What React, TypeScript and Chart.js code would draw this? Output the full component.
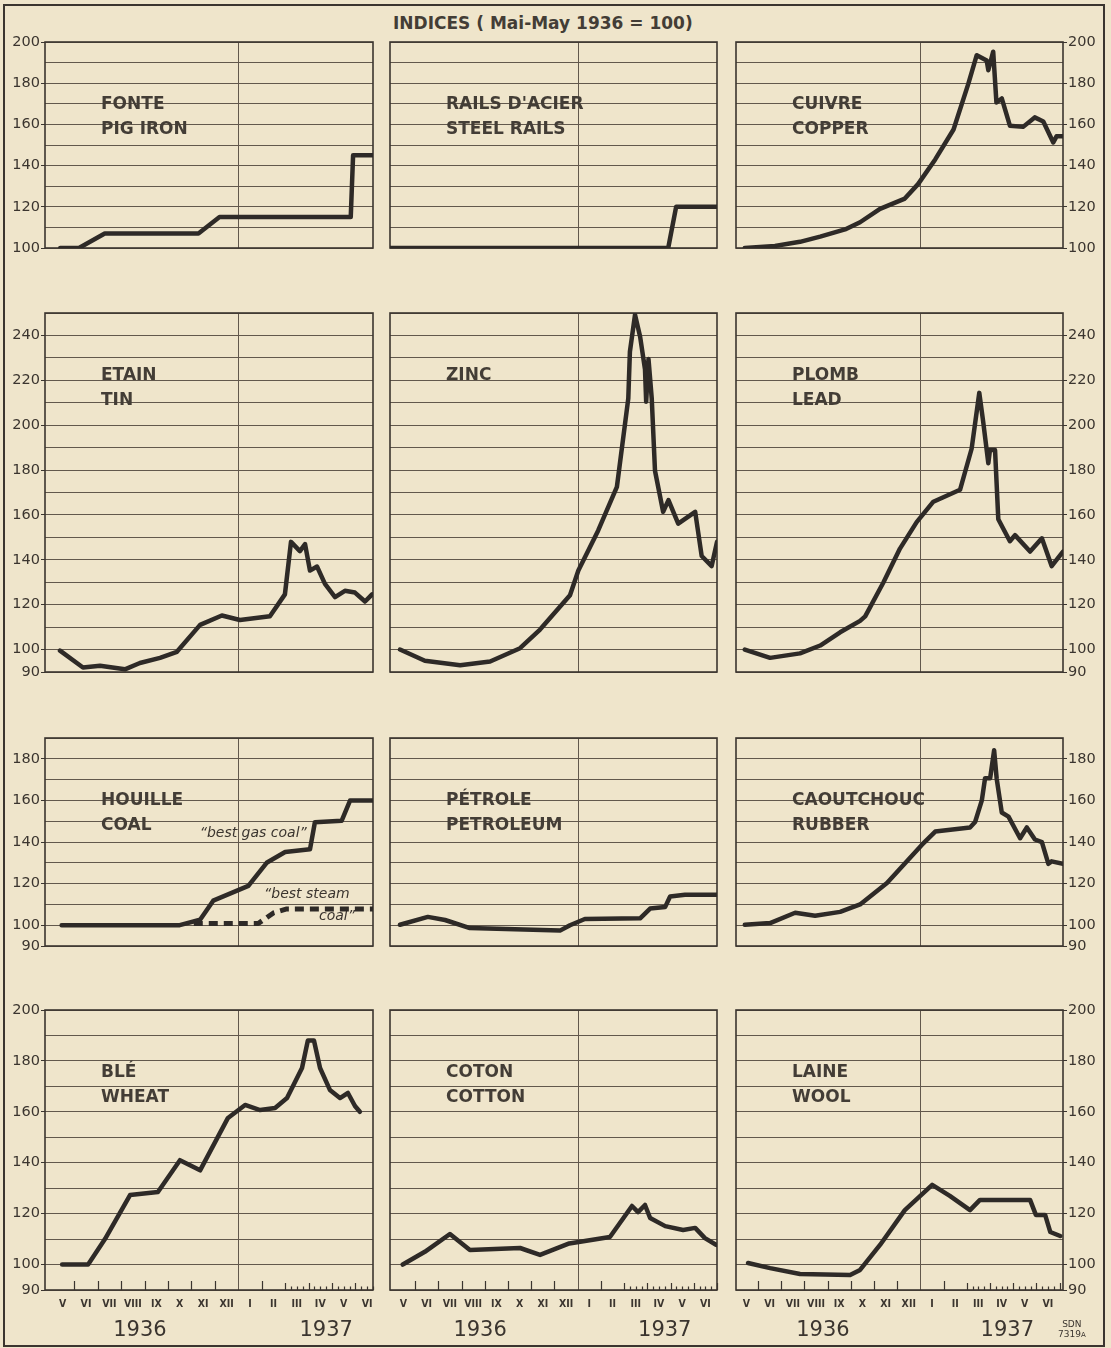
import React, { useEffect, useRef } from 'react';
import { Chart, registerables } from 'chart.js';

Chart.register(...registerables);

const BG = '#efe5cb';
const INK = '#3b352f';
const LABEL_INK = '#433d36';
const GRID = '#62584c';
const LINE = '#2e2a27';

// Month labels (May 1936 .. June 1937); x values are in months from 1 May 1936
const monthLabels = ['V', 'VI', 'VII', 'VIII', 'IX', 'X', 'XI', 'XII', 'I', 'II', 'III', 'IV', 'V', 'VI'];
const yearLabels = ['1936', '1937'];
const yearCenters = [3.8, 11.75];
const monthTicks = [1, 2, 3, 4, 5, 6, 7, 9];
const weeklyTicks = [10, 10.25, 10.5, 10.75, 11, 11.25, 11.5, 11.75, 12, 12.25, 12.5, 12.75, 13, 13.25, 13.5, 13.75, 14];
const yearDivider = 8;

// y ranges per row
const rowRanges = [[100, 200], [90, 250], [90, 190], [90, 200]];

// ---- data: [month, index] ----
const pigIron = [[0.4, 100], [1.2, 100], [2.3, 107], [6.3, 107], [7.2, 115], [12.8, 115], [12.9, 145], [13.75, 145]];
const steelRails = [[-0.08, 100], [11.9, 100], [12.24, 120], [14.0, 120]];
const copper = [[0.43, 100], [1.73, 101], [2.81, 103], [3.68, 105.5], [4.75, 109], [5.4, 112.5], [6.26, 119], [7.33, 124], [7.9, 131], [8.64, 143], [9.43, 157.5], [10.07, 179.8], [10.43, 193.6], [10.86, 191], [10.93, 186.3], [11.14, 195.3], [11.28, 170.6], [11.51, 172.6], [11.86, 159.4], [12.43, 158.8], [12.93, 163.4], [13.3, 161.4], [13.73, 151.2], [13.87, 154.2], [14.15, 154.2]];
const tin = [[0.39, 99.5], [1.37, 92], [2.1, 92.8], [3.16, 91.2], [3.8, 94], [4.66, 96.3], [5.38, 99], [6.37, 111], [7.3, 115.2], [8.07, 113.2], [9.35, 114.8], [9.99, 124.6], [10.25, 148], [10.63, 143.9], [10.85, 147], [11.06, 135.2], [11.36, 137], [11.7, 129.3], [12.13, 123.4], [12.55, 126.2], [12.98, 125.4], [13.41, 121.4], [13.71, 124.6]];
const zinc = [[0.35, 100], [1.42, 95], [2.94, 93], [4.23, 94.7], [5.52, 100.6], [6.38, 108.9], [7.67, 124.2], [8.03, 135.2], [8.88, 153], [9.69, 172.5], [10.18, 211.9], [10.25, 232.8], [10.47, 249.2], [10.69, 239.4], [10.9, 224.9], [10.95, 210.5], [11.05, 229.5], [11.19, 211.9], [11.33, 179.7], [11.68, 161.4], [11.91, 166.6], [12.33, 156.1], [13.06, 161.4], [13.34, 141.7], [13.77, 137.2], [14.0, 148]];
const lead = [[0.43, 100], [1.52, 96.3], [2.81, 98.3], [3.68, 101.8], [4.54, 107.7], [5.4, 112.8], [5.62, 114.8], [6.41, 130], [7.12, 145], [7.84, 156.8], [8.56, 165.9], [9.71, 171.2], [10.21, 189.5], [10.54, 214.4], [10.71, 201.4], [10.93, 183], [11.0, 188.9], [11.22, 188.9], [11.36, 158.1], [11.86, 148.3], [12.08, 151], [12.73, 143.7], [13.24, 149.6], [13.66, 137.2], [14.15, 143.7]];
const gasCoal = [[0.46, 100], [5.5, 100], [6.37, 102.6], [6.93, 111.8], [8.43, 118.9], [9.21, 130], [10.0, 135.2], [11.06, 136.5], [11.27, 149.5], [12.41, 150.2], [12.77, 159.9], [13.75, 160]];
const steamCoal = [[6.1, 100.8], [8.85, 100.8], [9.5, 105.9], [10.07, 107.8], [13.75, 107.8]];
const petroleum = [[0.35, 100.2], [1.55, 104], [2.29, 102.5], [3.36, 98.6], [7.24, 97.4], [7.67, 100], [8.31, 103], [10.69, 103.3], [11.12, 108], [11.77, 108.8], [11.98, 113.8], [12.62, 114.6], [14.0, 114.6]];
const rubber = [[0.43, 100.2], [1.52, 101], [2.6, 106], [3.46, 104.5], [4.54, 106.4], [5.4, 110], [6.56, 120.3], [8.06, 138.6], [8.64, 145], [10.14, 147], [10.36, 149.6], [10.65, 160], [10.79, 170.7], [11.01, 170.7], [11.18, 184.1], [11.29, 170.5], [11.51, 154.2], [11.8, 152.2], [12.3, 141.8], [12.59, 147], [12.94, 141.2], [13.24, 139.9], [13.52, 129.5], [13.66, 130.7], [14.15, 129.5]];
const wheat = [[0.48, 100], [1.59, 100], [2.31, 110], [3.38, 127.3], [4.57, 128.5], [5.51, 141], [6.37, 137], [7.56, 157.6], [8.29, 162.7], [8.93, 160.7], [9.57, 161.5], [10.08, 165.4], [10.72, 177.2], [10.97, 188], [11.23, 188], [11.49, 177.2], [11.91, 168.6], [12.34, 165.4], [12.68, 167.4], [12.98, 162.3], [13.19, 160]];
const cotton = [[0.47, 100], [1.42, 105], [2.5, 112], [3.36, 105.7], [5.52, 106.5], [6.38, 103.8], [7.64, 108.3], [9.39, 110.8], [10.34, 123], [10.6, 120.6], [10.9, 123.4], [11.12, 118.3], [11.77, 115.1], [12.54, 113.6], [13.06, 114.4], [13.48, 110.4], [13.96, 107.7]];
const wool = [[0.57, 100.6], [1.52, 98.6], [2.81, 96.3], [4.97, 95.9], [5.4, 97.9], [6.26, 107.7], [7.33, 121.4], [8.51, 131.3], [9.27, 127], [10.14, 121.4], [10.57, 125.4], [12.73, 125.4], [12.98, 119.5], [13.38, 119.5], [13.6, 112.8], [14.03, 111.2]];

type Series = { data: number[][]; dashed?: boolean };
type Note = { text: string; x: number; y: number; align: CanvasTextAlign };
type Panel = { row: number; col: number; fr: string; en: string; series: Series[]; notes?: Note[] };

const panels: Panel[] = [
  { row: 0, col: 0, fr: 'FONTE', en: 'PIG IRON', series: [{ data: pigIron }] },
  { row: 0, col: 1, fr: "RAILS D'ACIER", en: 'STEEL RAILS', series: [{ data: steelRails }] },
  { row: 0, col: 2, fr: 'CUIVRE', en: 'COPPER', series: [{ data: copper }] },
  { row: 1, col: 0, fr: 'ETAIN', en: 'TIN', series: [{ data: tin }] },
  { row: 1, col: 1, fr: 'ZINC', en: '', series: [{ data: zinc }] },
  { row: 1, col: 2, fr: 'PLOMB', en: 'LEAD', series: [{ data: lead }] },
  {
    row: 2, col: 0, fr: 'HOUILLE', en: 'COAL',
    series: [{ data: gasCoal }, { data: steamCoal, dashed: true }],
    notes: [
      { text: '\u201Cbest gas coal\u201D', x: 6.35, y: 144.3, align: 'left' },
      { text: '\u201Cbest steam', x: 9.1, y: 115, align: 'left' },
      { text: 'coal\u201D', x: 12.98, y: 104.3, align: 'right' },
    ],
  },
  { row: 2, col: 1, fr: 'PÉTROLE', en: 'PETROLEUM', series: [{ data: petroleum }] },
  { row: 2, col: 2, fr: 'CAOUTCHOUC', en: 'RUBBER', series: [{ data: rubber }] },
  { row: 3, col: 0, fr: 'BLÉ', en: 'WHEAT', series: [{ data: wheat }] },
  { row: 3, col: 1, fr: 'COTON', en: 'COTTON', series: [{ data: cotton }] },
  { row: 3, col: 2, fr: 'LAINE', en: 'WOOL', series: [{ data: wool }] },
];

// layout (pixels)
const rowTop = [42, 313, 738, 1010];
const rowHeight = [254, 407, 256, 280];
const colLeft = [45, 390, 736];
const colWidth = [328, 327, 327];
const colXRange = [[-0.25, 13.75], [-0.08, 14.0], [0.05, 14.15]];

const isLabeled = (v: number) => v % 20 === 0 || v === 90;

function PanelChart({ panel }: { panel: Panel }) {
  const ref = useRef<HTMLCanvasElement>(null);
  const { row, col } = panel;
  const padL = col === 0 ? 45 : 10;
  const padR = col === 2 ? 45 : 10;
  const padT = 10;
  const padB = row === 3 ? 60 : 10;
  const w = padL + colWidth[col] + padR;
  const h = padT + rowHeight[row] + padB;
  const left = colLeft[col] - padL;
  const top = rowTop[row] - padT;

  useEffect(() => {
    const canvas = ref.current;
    if (!canvas) return;
    const deco = {
      id: 'deco' + row + col,
      beforeDatasetsDraw(chart: any) {
        const c = chart.ctx;
        const ca = chart.chartArea;
        const xs = chart.scales.x;
        const ys = chart.scales.y;
        c.save();
        // divider Jan 1937
        const dx = Math.round(xs.getPixelForValue(yearDivider)) + 0.5;
        c.strokeStyle = GRID;
        c.lineWidth = 1;
        c.beginPath();
        c.moveTo(dx, ca.top);
        c.lineTo(dx, ca.bottom);
        c.stroke();
        // frame
        c.strokeStyle = INK;
        c.lineWidth = 1.6;
        c.strokeRect(ca.left, ca.top, ca.right - ca.left, ca.bottom - ca.top);
        if (row === 3) {
          c.lineWidth = 1.2;
          c.strokeStyle = INK;
          c.beginPath();
          monthTicks.forEach((m) => {
            const px = Math.round(xs.getPixelForValue(m)) + 0.5;
            c.moveTo(px, ca.bottom);
            c.lineTo(px, ca.bottom - 9);
          });
          weeklyTicks.forEach((m) => {
            if (m > xs.max) return;
            const px = Math.round(xs.getPixelForValue(m)) + 0.5;
            const len = Number.isInteger(m) ? 7 : 3.5;
            c.moveTo(px, ca.bottom);
            c.lineTo(px, ca.bottom - len);
          });
          c.stroke();
          c.fillStyle = INK;
          c.font = '21px "DejaVu Sans"';
          c.textAlign = 'center';
          c.textBaseline = 'middle';
          yearLabels.forEach((t, i) => {
            c.fillText(t, xs.getPixelForValue(yearCenters[i]), ca.bottom + 41);
          });
        }
        // panel labels
        c.fillStyle = LABEL_INK;
        c.font = 'bold 17px "DejaVu Sans"';
        c.textAlign = 'left';
        c.textBaseline = 'middle';
        c.fillText(panel.fr, ca.left + 56, ca.top + 63);
        if (panel.en) c.fillText(panel.en, ca.left + 56, ca.top + 88);
        if (panel.notes) {
          c.font = 'italic 14px "DejaVu Sans"';
          c.fillStyle = INK;
          panel.notes.forEach((n) => {
            c.textAlign = n.align;
            c.fillText(n.text, xs.getPixelForValue(n.x), ys.getPixelForValue(n.y));
          });
        }
        c.restore();
      },
    };

    const chart = new Chart(canvas, {
      type: 'line',
      data: {
        datasets: panel.series.map((s) => ({
          data: s.data.map(([x, y]) => ({ x, y })),
          borderColor: LINE,
          borderWidth: s.dashed ? 5 : 4.5,
          borderDash: s.dashed ? [9, 6] : [],
          borderJoinStyle: 'round',
          borderCapStyle: s.dashed ? 'butt' : 'round',
          pointRadius: 0,
          tension: 0,
          fill: false,
        })),
      },
      options: {
        animation: false,
        responsive: false,
        devicePixelRatio: 1,
        events: [],
        layout: {
          padding: {
            left: col === 0 ? 5 : 10,
            right: col === 2 ? 5 : 10,
            top: padT,
            bottom: row === 3 ? 12 : padB,
          },
        },
        plugins: { legend: { display: false }, tooltip: { enabled: false } },
        scales: {
          x: {
            type: 'linear',
            min: colXRange[col][0],
            max: colXRange[col][1],
            display: row === 3,
            afterBuildTicks: (s: any) => {
              s.ticks = monthLabels.map((_, i) => ({ value: i + 0.5 }));
            },
            afterFit: (s: any) => {
              s.height = 48;
            },
            ticks: {
              autoSkip: false,
              maxRotation: 0,
              padding: 8,
              color: INK,
              font: { family: '"Liberation Sans Narrow", "DejaVu Sans Condensed", sans-serif', size: 10.5, weight: 'bold' },
              callback: (_v: any, i: number) => monthLabels[i],
            },
            grid: { display: false, drawTicks: false },
            border: { display: false },
          },
          y: {
            type: 'linear',
            min: rowRanges[row][0],
            max: rowRanges[row][1],
            position: col === 2 ? 'right' : 'left',
            afterFit: (s: any) => {
              s.width = col === 1 ? 0 : 40;
            },
            ticks: {
              stepSize: 10,
              autoSkip: false,
              display: col !== 1,
              padding: 1,
              color: INK,
              font: { family: '"DejaVu Sans"', size: 14.5 },
              callback: (v: any) => (isLabeled(Number(v)) ? String(v) : ''),
            },
            grid: {
              color: GRID,
              lineWidth: 1,
              drawTicks: col !== 1,
              tickLength: 4,
              tickColor: (ctx: any) => (ctx.tick && isLabeled(ctx.tick.value) ? INK : 'rgba(0,0,0,0)'),
            },
            border: { display: false },
          },
        },
      },
      plugins: [deco],
    } as any);
    return () => chart.destroy();
  }, []);

  return (
    <canvas
      ref={ref}
      width={w}
      height={h}
      style={{ position: 'absolute', left, top, width: w, height: h }}
    />
  );
}

export default function App() {
  useEffect(() => {
    document.body.style.margin = '0';
    document.body.style.background = BG;
  }, []);
  return (
    <div style={{ position: 'absolute', left: 0, top: 0, width: 1111, height: 1348, background: BG, overflow: 'hidden', fontFamily: '"DejaVu Sans", sans-serif', color: INK }}>
      <div style={{ position: 'absolute', left: 3, top: 4, width: 1102, height: 1343, border: `2px solid ${INK}`, boxSizing: 'border-box' }} />
      <div style={{ position: 'absolute', left: 393, top: 12, fontSize: 17, fontWeight: 'bold', lineHeight: '22px', whiteSpace: 'nowrap', color: LABEL_INK }}>
        INDICES ( Mai-May 1936 = 100)
      </div>
      {panels.map((p) => (
        <PanelChart key={p.row + '-' + p.col} panel={p} />
      ))}
      <div style={{ position: 'absolute', left: 1058, top: 1319, fontSize: 9, lineHeight: '10px', textAlign: 'center' }}>
        SDN<br />7319<span style={{ fontSize: 7 }}>A</span>
      </div>
    </div>
  );
}
